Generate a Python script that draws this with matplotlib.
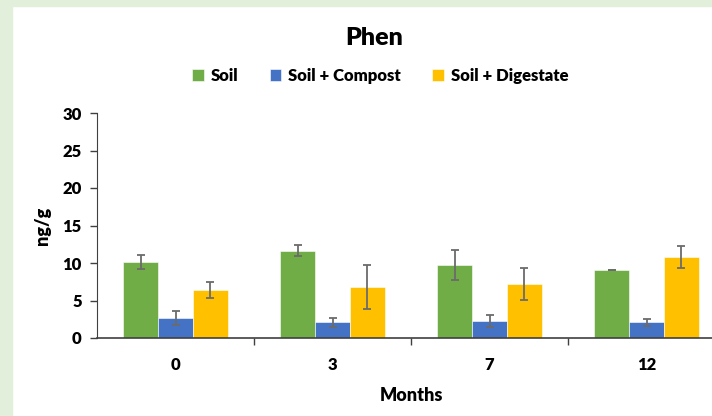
import matplotlib
matplotlib.use("Agg")
import matplotlib.pyplot as plt
from matplotlib.patches import Rectangle
import numpy as np

plt.rcParams['font.family'] = ['Lato', 'DejaVu Sans']

# data
months = ['0', '3', '7', '12']
series = ['Soil', 'Soil + Compost', 'Soil + Digestate']
soil = [10.1, 11.65, 9.7, 9.07]
soil_err = [0.95, 0.75, 2.0, 0.05]
compost = [2.7, 2.1, 2.3, 2.1]
compost_err = [0.95, 0.6, 0.8, 0.5]
digestate = [6.45, 6.8, 7.2, 10.85]
digestate_err = [1.05, 2.9, 2.15, 1.45]

colours = ['#70AD47', '#4472C4', '#FFC000']

fig = plt.figure(figsize=(7.12, 4.16), dpi=100)
# light green frame on the left and top
fig.patches.append(Rectangle((0, 0), 12/712, 1, transform=fig.transFigure,
                             color='#E2EFDA', zorder=-10))
fig.patches.append(Rectangle((0, 1 - 6/416), 1, 6/416, transform=fig.transFigure,
                             color='#E2EFDA', zorder=-10))

ax = fig.add_axes([97/712, 1 - 338/416, 628/712, 225/416])
x = np.arange(len(months))
w = 0.221
vals = [soil, compost, digestate]
errs = [soil_err, compost_err, digestate_err]
for i in range(3):
    ax.bar(x + (i - 1) * w, vals[i], w, color=colours[i], label=series[i],
           edgecolor='white', linewidth=0.4,
           yerr=errs[i], error_kw=dict(ecolor='#6b6b6b', elinewidth=1.3,
                                      capsize=3, capthick=1.3), zorder=2)

ax.set_xlim(-0.5, 3.5)
ax.set_ylim(0, 30)
ax.set_yticks(range(0, 31, 5))
ax.set_xticks(x)
ax.set_xticklabels(months)
ax.set_xticks(np.arange(0.5, 3.5, 1), minor=True)
ax.tick_params(axis='x', which='major', length=0, pad=14)
ax.tick_params(axis='x', which='minor', length=5, width=1, color='#404040', direction='out')
ax.tick_params(axis='y', length=5, width=1, color='#404040', pad=6)
for lab in ax.get_xticklabels() + ax.get_yticklabels():
    lab.set_fontsize(12)
    lab.set_fontweight('heavy')
for s in ['top', 'right']:
    ax.spines[s].set_visible(False)
ax.spines['left'].set_color('#404040')
ax.spines['bottom'].set_color('#404040')
ax.spines['bottom'].set_linewidth(1.2)

ax.set_ylabel('ng/g', fontsize=13, fontweight='heavy', labelpad=8)
ax.set_xlabel('Months', fontsize=13, fontweight='heavy', labelpad=10)

fig.text(374/712, 1 - 38/416, 'Phen', ha='center', va='center', fontsize=18, fontweight='heavy')
fig.legend(loc='center', bbox_to_anchor=(380/712, 1 - 76/416), ncol=3, frameon=False,
           prop=dict(size=12, weight='heavy'), handlelength=0.7, handleheight=0.7,
           handletextpad=0.4, columnspacing=1.9)

fig.savefig('out.png', dpi=100)
